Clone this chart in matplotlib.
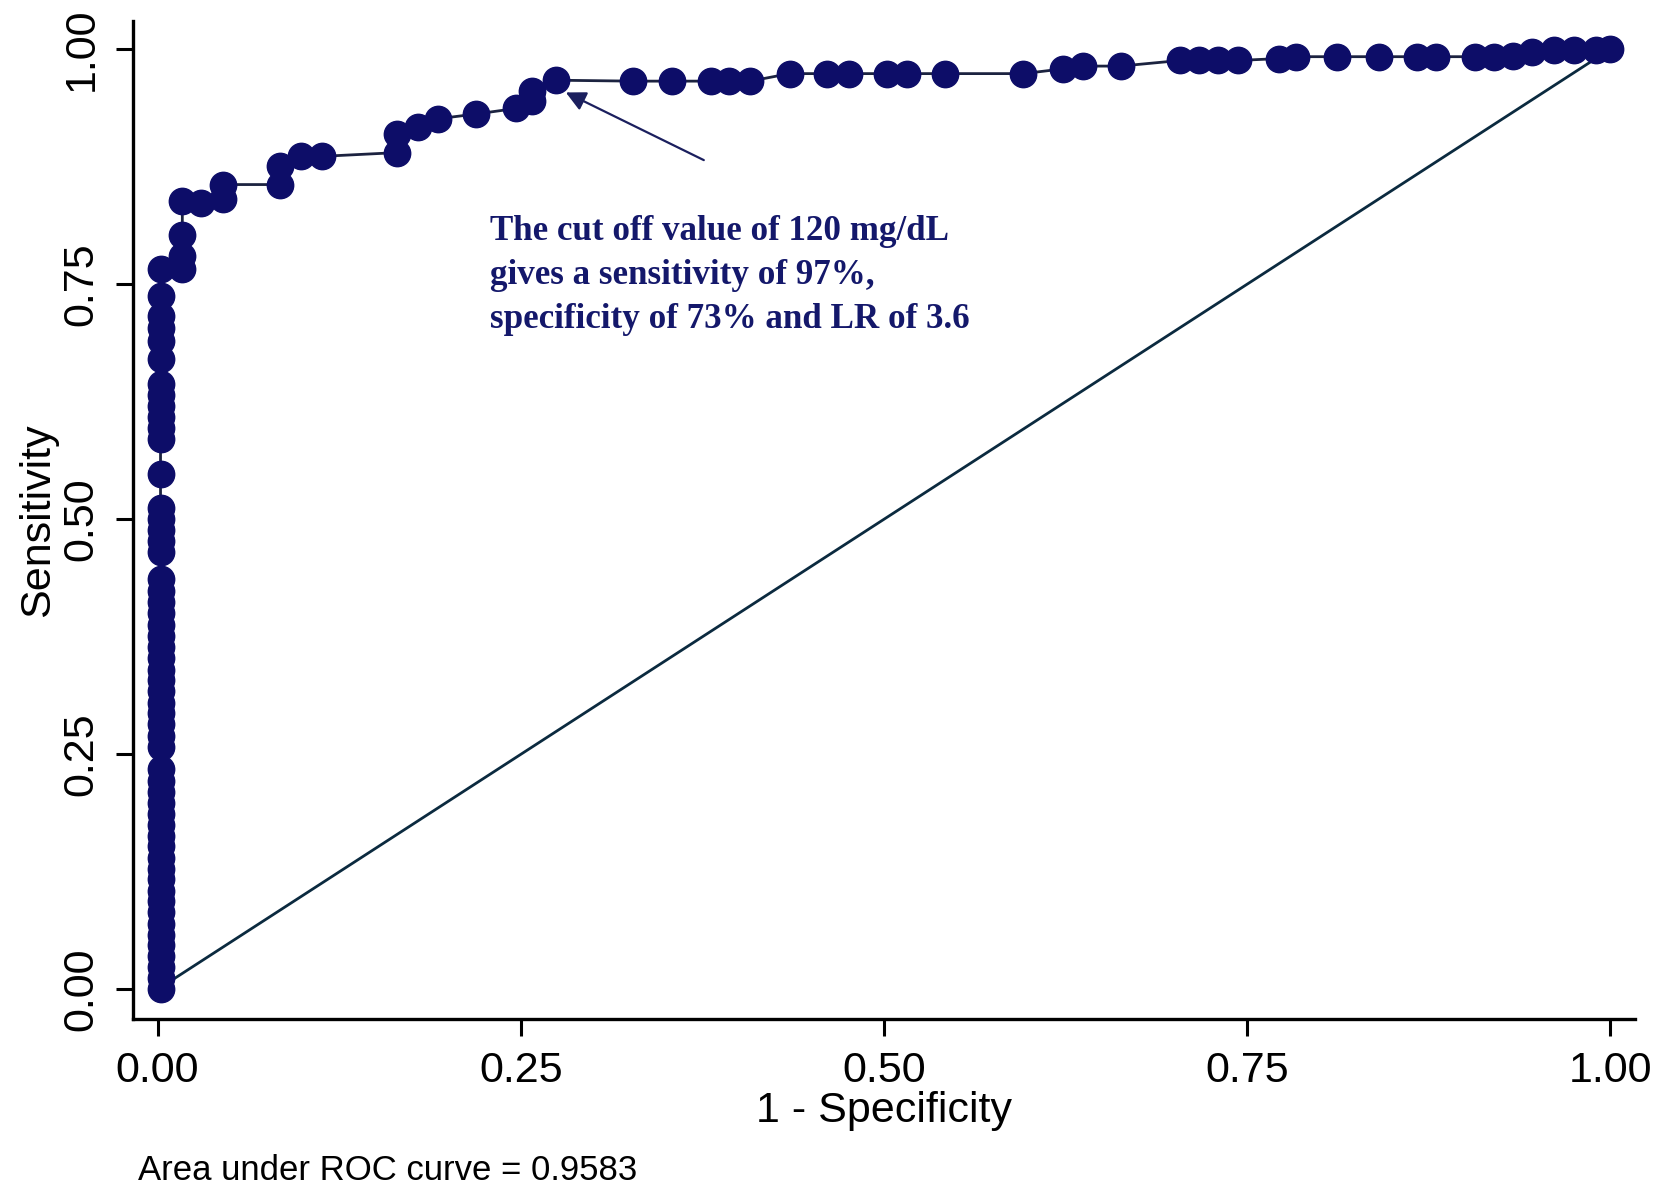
import matplotlib
matplotlib.use("Agg")
import matplotlib.pyplot as plt

# ROC points (1 - specificity, sensitivity)
stack_y = [0.0, 0.012, 0.024, 0.035, 0.047, 0.058, 0.070, 0.082, 0.094, 0.105,
           0.117, 0.128, 0.140, 0.152, 0.163, 0.175, 0.187, 0.198, 0.210, 0.222,
           0.234, 0.258, 0.270, 0.282, 0.294, 0.305, 0.317, 0.329, 0.340, 0.352,
           0.364, 0.376, 0.388, 0.400, 0.412, 0.424, 0.436, 0.465, 0.477, 0.489,
           0.500, 0.512, 0.548, 0.585, 0.597, 0.609, 0.620, 0.632, 0.644, 0.670,
           0.690, 0.703, 0.716, 0.737, 0.766]
stack_x = [0.002] * len(stack_y)

rest_x = [0.017, 0.017, 0.017, 0.017, 0.030, 0.045, 0.045, 0.084, 0.084, 0.099,
          0.113, 0.165, 0.165, 0.179, 0.193, 0.219, 0.247, 0.258, 0.258, 0.274,
          0.327, 0.354, 0.381, 0.393, 0.408, 0.435, 0.461, 0.476, 0.502, 0.516,
          0.542, 0.596, 0.623, 0.637, 0.663, 0.704, 0.717, 0.730, 0.744, 0.772,
          0.784, 0.812, 0.841, 0.867, 0.880, 0.907, 0.920, 0.933, 0.946, 0.961,
          0.975, 0.990, 1.000]
rest_y = [0.766, 0.780, 0.802, 0.838, 0.836, 0.841, 0.856, 0.856, 0.876, 0.886,
          0.886, 0.890, 0.910, 0.917, 0.926, 0.931, 0.937, 0.945, 0.956, 0.967,
          0.966, 0.966, 0.966, 0.966, 0.966, 0.974, 0.974, 0.974, 0.974, 0.974,
          0.974, 0.974, 0.979, 0.982, 0.982, 0.988, 0.988, 0.988, 0.988, 0.990,
          0.992, 0.992, 0.992, 0.992, 0.992, 0.992, 0.992, 0.993, 0.997, 0.999,
          0.999, 0.999, 1.000]

fpr = stack_x + rest_x
tpr = stack_y + rest_y

ticks = [0.0, 0.25, 0.5, 0.75, 1.0]
tick_labels = ["0.00", "0.25", "0.50", "0.75", "1.00"]

note = ("The cut off value of 120 mg/dL\n"
        "gives a sensitivity of 97%,\n"
        "specificity of 73% and LR of 3.6")
auc_text = "Area under ROC curve = 0.9583"

navy = "#0d0d68"
sans = ["Liberation Sans", "DejaVu Sans"]

fig = plt.figure(figsize=(16.59, 11.91), dpi=100)
ax = fig.add_axes([0.0803, 0.1444, 0.9052, 0.838])

ax.plot([0, 1], [0, 1], color="#0b2a3f", linewidth=2.0, zorder=1)
ax.plot(fpr, tpr, color="#1c2340", linewidth=2.0, marker="o", markersize=19,
        markerfacecolor=navy, markeredgecolor=navy, zorder=3)

ax.set_xlim(-0.0168, 1.017)
ax.set_ylim(-0.0315, 1.030)

for side in ["top", "right"]:
    ax.spines[side].set_visible(False)
for side in ["left", "bottom"]:
    ax.spines[side].set_linewidth(2.4)
    ax.spines[side].set_color("black")

ax.set_xticks(ticks)
ax.set_xticklabels(tick_labels, fontsize=31, family=sans)
ax.set_yticks(ticks)
ax.set_yticklabels(tick_labels, fontsize=31, family=sans, rotation=90, va="center")
ax.tick_params(axis="both", direction="out", length=12, width=2.2, color="black")
ax.tick_params(axis="x", pad=11)
ax.tick_params(axis="y", pad=11)

ax.set_xlabel("1 - Specificity", fontsize=31, family=sans, labelpad=0)
ax.set_ylabel("Sensitivity", fontsize=31, family=sans, labelpad=2)

# annotation of the chosen cut off
ax.annotate("", xy=(0.281, 0.954), xytext=(0.376, 0.882),
            arrowprops=dict(arrowstyle="-|>", color="#1b1f5e", lw=1.6,
                            mutation_scale=30, shrinkA=0, shrinkB=0))
ax.text(0.229, 0.824, note, fontsize=25.2, fontweight="bold", color="#14186b",
        family=["Liberation Serif", "DejaVu Serif"], va="top", ha="left",
        linespacing=1.45)

fig.text(0.083, 0.017, auc_text, fontsize=25, family=sans, va="center", ha="left")

fig.savefig("out.png", dpi=100, facecolor="white")
plt.close(fig)
